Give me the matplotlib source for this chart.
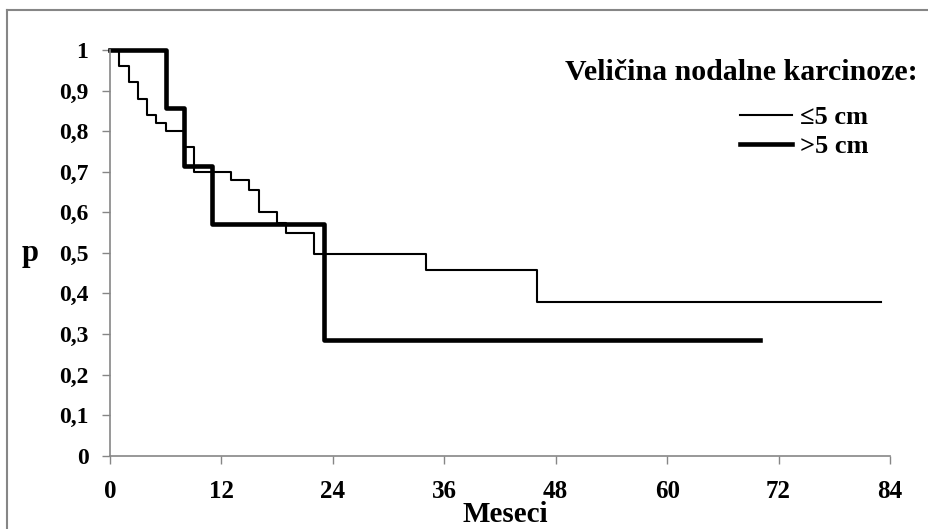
import matplotlib
matplotlib.use("Agg")
import matplotlib.pyplot as plt
from matplotlib.lines import Line2D

# Kaplan-Meier podaci (meseci, kumulativno prezivljavanje)
months_small = [0, 1, 2, 3, 4, 5, 6, 8, 9, 13, 15, 16, 18, 19, 22, 34, 46, 83]
surv_small = [1.0, 0.96, 0.92, 0.88, 0.84, 0.82, 0.80, 0.76, 0.70, 0.68, 0.654,
              0.60, 0.574, 0.548, 0.496, 0.457, 0.38, 0.38]
months_large = [0, 6, 8, 11, 23, 70]
surv_large = [1.0, 0.857, 0.714, 0.571, 0.286, 0.286]

x_ticks = [0, 12, 24, 36, 48, 60, 72, 84]
y_ticks = [0, 0.1, 0.2, 0.3, 0.4, 0.5, 0.6, 0.7, 0.8, 0.9, 1]
y_labels = ['0', '0,1', '0,2', '0,3', '0,4', '0,5', '0,6', '0,7', '0,8', '0,9', '1']
legend_title = 'Veličina nodalne karcinoze:'
labels = ['≤5 cm', '>5 cm']

plt.rcParams['font.family'] = ['Liberation Serif', 'DejaVu Serif']
plt.rcParams['font.weight'] = 'bold'
gray = '#868686'

fig = plt.figure(figsize=(9.29, 5.29), dpi=100)
ax = fig.add_axes([0.1184, 0.1386, 0.8396, 0.7669])

ax.step(months_small, surv_small, where='post', color='black', linewidth=1.5,
        label=labels[0], clip_on=False)
ax.step(months_large, surv_large, where='post', color='black', linewidth=3.3,
        label=labels[1], clip_on=False)

ax.set_xlim(0, 84)
ax.set_ylim(0, 1)
ax.set_xticks(x_ticks)
ax.set_yticks(y_ticks)
ax.set_yticklabels(y_labels)
for s in ['top', 'right']:
    ax.spines[s].set_visible(False)
for s in ['left', 'bottom']:
    ax.spines[s].set_color(gray)
    ax.spines[s].set_linewidth(1.2)
ax.tick_params(axis='both', direction='out', length=5.5, width=1, color=gray)
ax.tick_params(axis='x', labelsize=18, pad=12)
ax.tick_params(axis='y', labelsize=17, pad=10)

fig.text(505 / 929, 1 / 529, 'Meseci', fontsize=21, fontweight='bold',
         ha='center', va='bottom')
fig.text(30 / 929, 1 - 253 / 529, 'p', fontsize=22, fontweight='bold',
         ha='center', va='center')
fig.text(918 / 929, 1 - 72 / 529, legend_title, fontsize=21.5, fontweight='bold',
         ha='right', va='center')

ax.legend(loc='center left', bbox_to_anchor=(740 / 929, 1 - 132 / 529),
          bbox_transform=fig.transFigure, frameon=False, fontsize=19,
          borderpad=0, borderaxespad=0, handlelength=1.97, handletextpad=0.3,
          labelspacing=0.22)

# okvir slike (gore i levo)
fig.add_artist(Line2D([7 / 929, 7 / 929], [0, 1 - 10 / 529], color=gray, linewidth=1.5))
fig.add_artist(Line2D([7 / 929, 1], [1 - 10 / 529, 1 - 10 / 529], color=gray, linewidth=1.5))

fig.savefig('out.png', dpi=100)
